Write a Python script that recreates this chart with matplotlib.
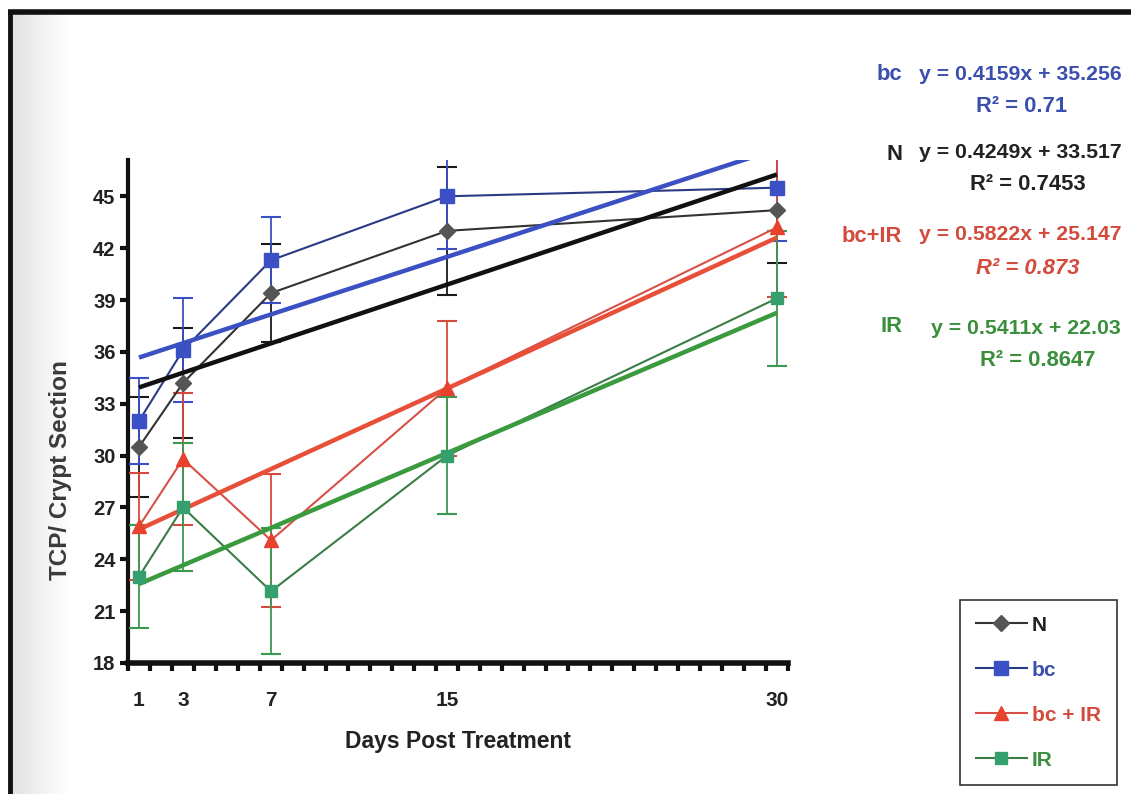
import numpy as np
import matplotlib
matplotlib.use("Agg")
import matplotlib.pyplot as plt
from matplotlib.lines import Line2D

# ---------------- data ----------------
days = [1, 3, 7, 15, 30]
tick_days = [1, 3, 7, 15, 30]

n_mean = [30.5, 34.2, 39.4, 43.0, 44.2]
n_err = [2.9, 3.2, 2.85, 3.7, 3.05]
bc_mean = [32.0, 36.1, 41.3, 45.0, 45.5]
bc_err = [2.5, 3.0, 2.5, 3.05, 3.1]
bcir_mean = [25.9, 29.8, 25.1, 33.9, 43.2]
bcir_err = [3.1, 3.8, 3.85, 3.9, 4.0]
ir_mean = [23.0, 27.0, 22.15, 30.0, 39.1]
ir_err = [3.0, 3.7, 3.65, 3.4, 3.9]

series_names = ["N", "bc", "bc + IR", "IR"]
eq_names = ["N", "bc", "bc+IR", "IR"]
slopes = [0.4249, 0.4159, 0.5822, 0.5411]
intercepts = [33.517, 35.256, 25.147, 22.03]
r2_labels = ["0.7453", "0.71", "0.873", "0.8647"]
eq_labels = ["y = 0.4249x + 33.517", "y = 0.4159x + 35.256",
             "y = 0.5822x + 25.147", "y = 0.5411x + 22.03"]

# ---------------- fonts ----------------
FAM = ["Liberation Sans", "DejaVu Sans"]
plt.rcParams["font.family"] = FAM
plt.rcParams["font.weight"] = "bold"

# ---------------- styles ----------------
means = [n_mean, bc_mean, bcir_mean, ir_mean]
errs = [n_err, bc_err, bcir_err, ir_err]
line_cols = ["#333333", "#2b3a85", "#d85048", "#3a7d48"]
mark_cols = ["#555555", "#3a50c4", "#e8412e", "#35a06e"]
err_cols = ["#1a1a1a", "#3a50c4", "#d84a40", "#3a9a50"]
trend_cols = ["#111111", "#3b50c2", "#e84f38", "#3a9a3e"]
text_cols = ["#222222", "#3b4fae", "#d24b3c", "#3a8f3c"]
markers = ["D", "s", "^", "s"]
msizes = [8, 10, 10, 9]

W, H = 1131, 794
fig = plt.figure(figsize=(W / 100, H / 100), dpi=100)
fig.patch.set_facecolor("white")

# scanned-page shading on the left edge and the page border
bg = fig.add_axes([0, 0, 1, 1], zorder=-10)
grad = np.ones((10, 400))
xx = np.arange(400)
grad[:] = np.clip(0.86 + 0.14 * (xx / 70.0), 0, 1)
grad[:, :10] = 1.0
bg.imshow(grad, cmap="gray", vmin=0, vmax=1, aspect="auto",
          extent=[0, 400 / W, 0, 1 - 14 / H], interpolation="bilinear")
bg.set_xlim(0, 1)
bg.set_ylim(0, 1)
bg.axis("off")
bg.plot([10 / W, 10 / W], [0, 1 - 12 / H], color="#111111", lw=3.5,
        solid_capstyle="butt")
bg.plot([8 / W, 1], [1 - 12 / H, 1 - 12 / H], color="#111111", lw=4,
        solid_capstyle="butt")

left, right, bottom, top = 128, 788, 663, 160
ax = fig.add_axes([left / W, 1 - bottom / H, (right - left) / W, (bottom - top) / H])
ax.set_facecolor("none")

xs = np.array(days, dtype=float)
for i in range(4):
    ax.errorbar(xs, means[i], yerr=errs[i], fmt="none", ecolor=err_cols[i],
                elinewidth=1.3, capsize=7, capthick=1.5, zorder=3)
    ax.plot(xs, means[i], color=line_cols[i], lw=1.5, zorder=4)

for i in range(4):
    tx = np.array([days[0], days[-1]], dtype=float)
    ax.plot(tx, slopes[i] * tx + intercepts[i], color=trend_cols[i], lw=3.2,
            zorder=5, solid_capstyle="butt")

for i in range(4):
    ax.plot(xs, means[i], linestyle="none", marker=markers[i], ms=msizes[i],
            mfc=mark_cols[i], mec=mark_cols[i], zorder=6)

ax.set_xlim(0.5, 30.5)
ax.set_ylim(18, 47.1)
ax.set_yticks(np.arange(18, 46, 3))
ax.set_xticks(tick_days)
ax.set_xticks(np.arange(0.5, 30.6, 1.0), minor=True)
ax.tick_params(axis="x", which="major", length=0, pad=20, labelsize=15)
ax.tick_params(axis="x", which="minor", direction="out", length=6, width=3,
               color="#111111")
ax.tick_params(axis="y", direction="out", length=6, width=3, color="#111111",
               labelsize=14.5, pad=3)
for lab in ax.get_xticklabels() + ax.get_yticklabels():
    lab.set_fontweight("bold")
    lab.set_color("#222222")
for s in ["top", "right"]:
    ax.spines[s].set_visible(False)
ax.spines["left"].set_linewidth(3)
ax.spines["bottom"].set_linewidth(4)
ax.spines["left"].set_color("#111111")
ax.spines["bottom"].set_color("#111111")

ax.set_xlabel("Days Post Treatment", fontsize=16.5, fontweight="bold",
              color="#222222")
ax.xaxis.set_label_coords((458 - left) / (right - left), -(730 - bottom) / (bottom - top))
ax.set_ylabel("TCP/ Crypt Section", fontsize=17.5, fontweight="bold",
              color="#3a3a3a")
ax.yaxis.set_label_coords(-(left - 72) / (right - left), (bottom - 470) / (bottom - top))

# ---------------- equations ----------------
def fx(px):
    return px / W

def fy(py):
    return 1 - py / H

eq_fs = 15.3
# order on page: bc, N, bc+IR, IR
order = [1, 0, 2, 3]
name_pos = [(902, 75), (902, 155), (902, 237), (902, 327)]
eq_pos = [(919, 75), (919, 152), (919, 235), (931, 328)]
r2_pos = [(1022, 107), (1028, 184), (1028, 268), (1038, 360)]
for k, i in enumerate(order):
    fig.text(fx(name_pos[k][0]), fy(name_pos[k][1]), eq_names[i], ha="right",
             va="center", color=text_cols[i], fontsize=eq_fs + 0.5, fontweight="bold")
    fig.text(fx(eq_pos[k][0]), fy(eq_pos[k][1]), eq_labels[i], ha="left",
             va="center", color=text_cols[i], fontsize=eq_fs, fontweight="bold")
    fig.text(fx(r2_pos[k][0]), fy(r2_pos[k][1]), "R\u00b2 = " + r2_labels[i],
             ha="center", va="center", color=text_cols[i], fontsize=eq_fs + 0.5,
             fontweight="bold", style="italic" if i == 2 else "normal")

# ---------------- legend ----------------
handles = [Line2D([0], [0], color=line_cols[i], lw=1.5, marker=markers[i],
                  ms=msizes[i], mfc=mark_cols[i], mec=mark_cols[i])
           for i in range(4)]
leg = fig.legend(handles, series_names, loc="upper left",
                 bbox_to_anchor=(fx(960), fy(600)), frameon=True,
                 fancybox=False, edgecolor="#333333", framealpha=1,
                 prop={"family": FAM, "weight": "bold", "size": 15},
                 handlelength=2.45, handletextpad=0.25, labelspacing=1.25,
                 borderpad=0.75, borderaxespad=0)
leg.get_frame().set_linewidth(1.2)
for t, c in zip(leg.get_texts(), text_cols):
    t.set_color(c)

fig.savefig("out.png", dpi=100)
